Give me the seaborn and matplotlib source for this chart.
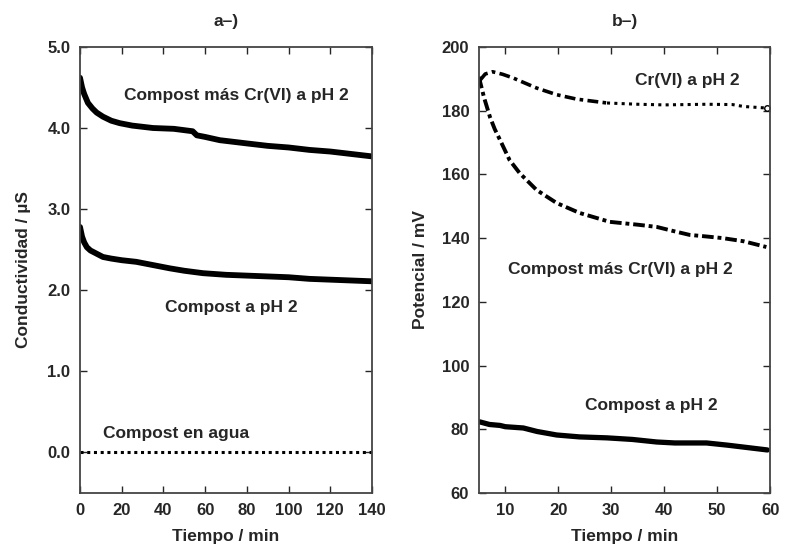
import matplotlib
matplotlib.use("Agg")
import matplotlib.pyplot as plt
import seaborn as sns

# ---- Panel a) conductivity ----
t_a = [0, 1, 2, 3.8, 6, 8, 11, 15, 19, 25, 35, 45, 51, 54, 56, 60, 67, 80, 90, 100, 110, 120, 130, 140]
cond_cr = [4.62, 4.50, 4.42, 4.31, 4.24, 4.19, 4.14, 4.09, 4.06, 4.03, 4.00, 3.99, 3.97, 3.96, 3.91, 3.89, 3.85, 3.81, 3.78, 3.76, 3.73, 3.71, 3.68, 3.65]
t_b = [0, 1, 2, 3.3, 5, 8, 11, 15, 20, 27, 35, 43, 50, 59, 70, 80, 90, 100, 110, 120, 130, 140]
cond_ph2 = [2.78, 2.66, 2.59, 2.53, 2.49, 2.45, 2.41, 2.39, 2.37, 2.35, 2.31, 2.27, 2.24, 2.21, 2.19, 2.18, 2.17, 2.16, 2.14, 2.13, 2.12, 2.11]
t_c = [0, 140]
cond_agua = [0.0, 0.0]

# ---- Panel b) potential ----
tp_cr_a = [5.2, 6.2, 7.6, 9.5, 11.4, 13.5, 15.9, 19.7, 23.5, 29.2]
pot_cr_a = [189.5, 191.5, 192.2, 191.4, 190.3, 188.8, 187.1, 185.0, 183.6, 182.4]
tp_cr_b = [29.2, 35, 40, 44, 48, 52.9, 55, 59.5]
pot_cr_b = [182.4, 182.0, 181.8, 181.9, 182.0, 181.9, 181.3, 180.8]
tp_comp_cr = [5.0, 6.0, 7.1, 8.0, 9.0, 10.8, 12.7, 15.9, 19.7, 24, 29.7, 35, 38.6, 41.5, 44.8, 48, 51, 55, 59.3]
pot_comp_cr = [190.6, 184.0, 178.0, 174.2, 170.8, 164.5, 160.4, 155.1, 151.0, 147.9, 145.1, 144.2, 143.5, 142.3, 141.0, 140.5, 140.0, 139.0, 137.2]
tp_ph2 = [5.2, 7, 9, 10, 13.4, 16, 19.7, 24, 29.2, 34, 38.6, 42, 48, 52, 55, 59.5]
pot_ph2 = [82.3, 81.5, 81.2, 80.8, 80.4, 79.3, 78.2, 77.6, 77.3, 76.8, 76.0, 75.7, 75.7, 75.0, 74.4, 73.5]

sns.set_style("ticks")
plt.rcParams["font.family"] = ["Liberation Sans", "DejaVu Sans"]
plt.rcParams["font.weight"] = "bold"
plt.rcParams["axes.labelweight"] = "bold"

FS = 12.5
fig = plt.figure(figsize=(7.85, 5.48), dpi=100)
ax1 = fig.add_axes([0.1019, 0.1004, 0.372, 0.814])
ax2 = fig.add_axes([0.610, 0.1004, 0.371, 0.814])

# Panel a
sns.lineplot(x=t_a, y=cond_cr, ax=ax1, color="black", lw=4.2, sort=False)
sns.lineplot(x=t_b, y=cond_ph2, ax=ax1, color="black", lw=4.2, sort=False)
sns.lineplot(x=t_c, y=cond_agua, ax=ax1, color="black", lw=2.2, linestyle=(0, (1, 1.2)), sort=False)
ax1.set_xlim(0, 140)
ax1.set_ylim(-0.5, 5.0)
ax1.set_xticks([0, 20, 40, 60, 80, 100, 120, 140])
ax1.set_yticks([0.0, 1.0, 2.0, 3.0, 4.0, 5.0])
ax1.set_yticklabels(["0.0", "1.0", "2.0", "3.0", "4.0", "5.0"])
ax1.set_xlabel("Tiempo / min", fontsize=FS, fontweight="bold", labelpad=8)
ax1.set_ylabel("Conductividad / µS", fontsize=FS, fontweight="bold", labelpad=12)
ax1.set_title("a–)", fontsize=FS, fontweight="bold", pad=15)
ax1.text(74.8, 4.40, "Compost más Cr(VI) a pH 2", ha="center", va="center", fontsize=FS, fontweight="bold")
ax1.text(72.4, 1.79, "Compost a pH 2", ha="center", va="center", fontsize=FS, fontweight="bold")
ax1.text(46, 0.23, "Compost en agua", ha="center", va="center", fontsize=FS, fontweight="bold")

# Panel b
sns.lineplot(x=tp_cr_a, y=pot_cr_a, ax=ax2, color="black", lw=2.6, linestyle=(0, (3, 1.2, 1, 1.2)), sort=False)
sns.lineplot(x=tp_cr_b, y=pot_cr_b, ax=ax2, color="black", lw=2.2, linestyle=(0, (1, 1.4)), sort=False)
ax2.plot([tp_cr_b[-1]], [pot_cr_b[-1]], marker="o", ms=4, mfc="white", mec="black", mew=1)
sns.lineplot(x=tp_comp_cr, y=pot_comp_cr, ax=ax2, color="black", lw=2.8, linestyle=(0, (3, 1, 1, 1)), sort=False)
sns.lineplot(x=tp_ph2, y=pot_ph2, ax=ax2, color="black", lw=3.8, sort=False)
ax2.set_xlim(5, 60)
ax2.set_ylim(60, 200)
ax2.set_xticks([10, 20, 30, 40, 50, 60])
ax2.set_yticks([60, 80, 100, 120, 140, 160, 180, 200])
ax2.set_xlabel("Tiempo / min", fontsize=FS, fontweight="bold", labelpad=8)
ax2.set_ylabel("Potencial / mV", fontsize=FS, fontweight="bold", labelpad=10)
ax2.set_title("b–)", fontsize=FS, fontweight="bold", pad=15)
ax2.text(44.4, 189.6, "Cr(VI) a pH 2", ha="center", va="center", fontsize=FS, fontweight="bold")
ax2.text(31.8, 130, "Compost más Cr(VI) a pH 2", ha="center", va="center", fontsize=FS, fontweight="bold")
ax2.text(37.6, 87.6, "Compost a pH 2", ha="center", va="center", fontsize=FS, fontweight="bold")

for ax in (ax1, ax2):
    for s in ax.spines.values():
        s.set_visible(True)
        s.set_linewidth(1.3)
        s.set_color("#444444")
    ax.tick_params(direction="in", top=True, right=True, length=5, width=1.0,
                   labelsize=12, pad=7)
    for lbl in ax.get_xticklabels() + ax.get_yticklabels():
        lbl.set_fontweight("bold")

fig.savefig("out.png", dpi=100)
